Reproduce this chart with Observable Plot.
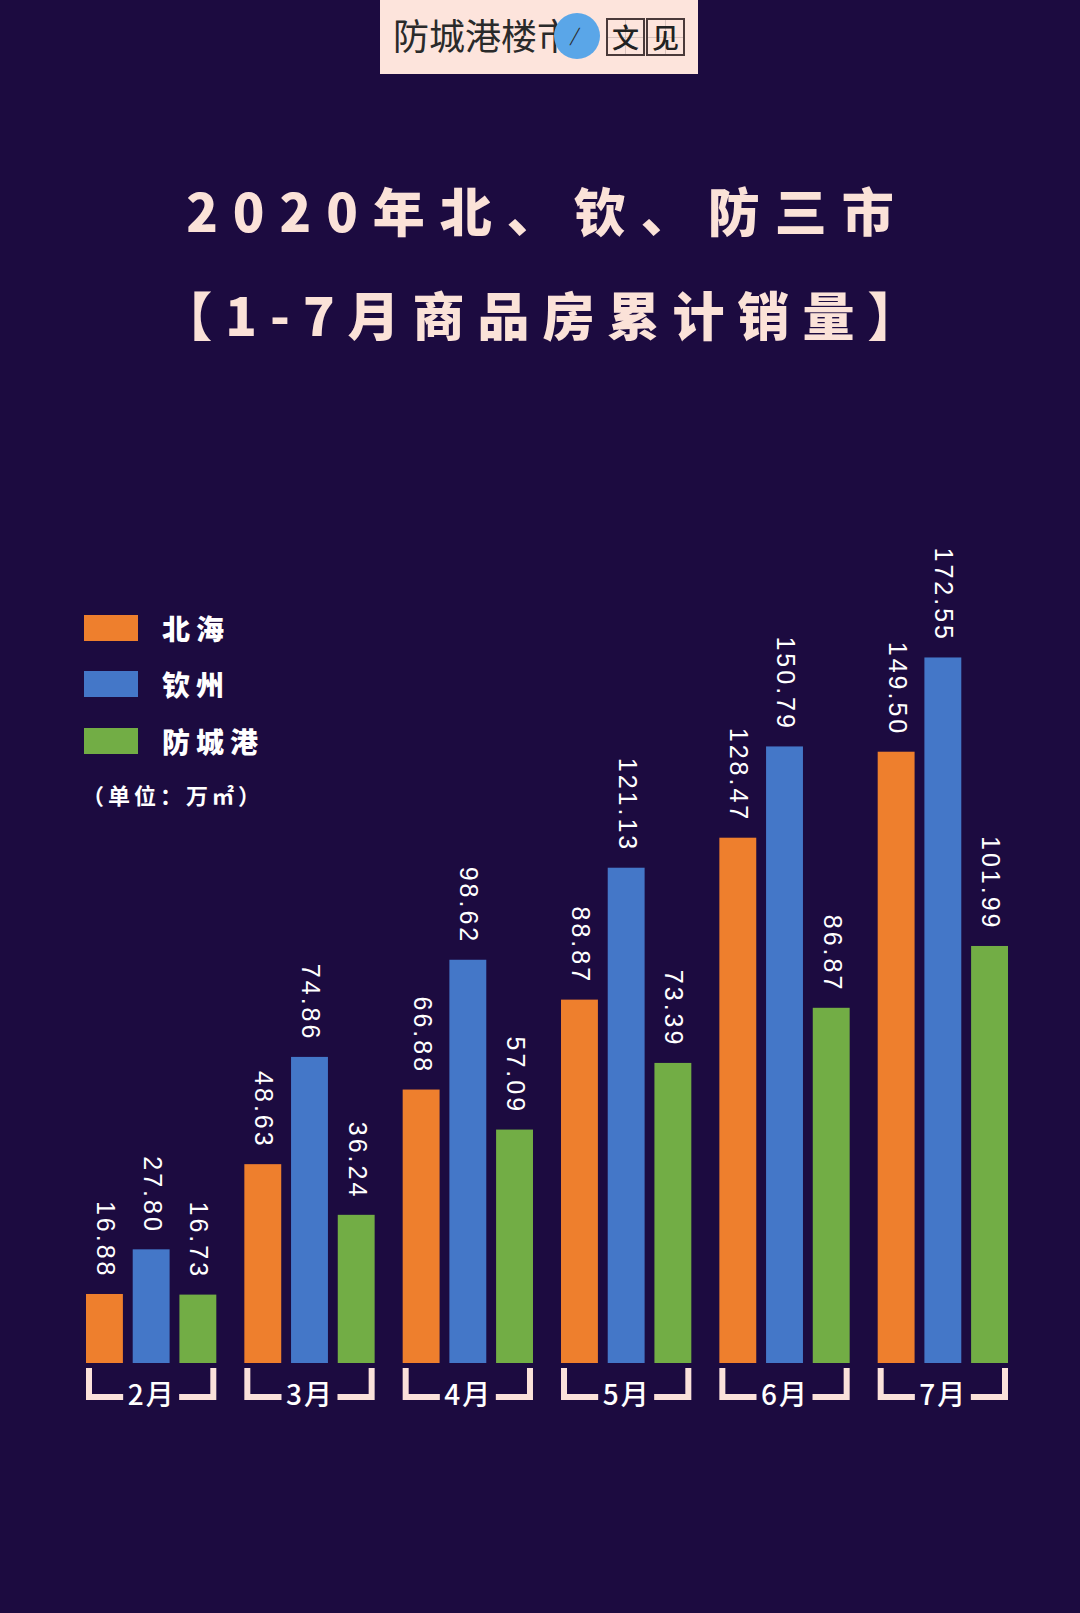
<!DOCTYPE html>
<html>
<head>
<meta charset="utf-8">
<script src="https://cdn.jsdelivr.net/npm/d3@7"></script>
<script src="https://cdn.jsdelivr.net/npm/@observablehq/plot@0.6"></script>
<style>
  html, body { margin: 0; padding: 0; background: #1c0b40; }
  #page { position: relative; width: 1080px; height: 1613px; background: #1c0b40; overflow: hidden;
          font-family: "Noto Sans CJK SC", "Noto Sans", sans-serif; }
  .abs { position: absolute; }
  #hdr { left: 380px; top: 0; width: 318px; height: 74px; background: #fde4dc; }
  #hdr .name { position: absolute; left: 13px; top: 12px; font-size: 36px; line-height: 44px; color: #2a2a2a; font-weight: 400; }
  #hdr .circle { position: absolute; left: 174px; top: 13px; width: 46px; height: 46px; border-radius: 50%; background: #5aa6e8; }
  #hdr .slash { position: absolute; left: 190px; top: 23px; font-size: 18px; line-height: 22px; color: #2a2a2a; font-style: italic; }
  #hdr .box { position: absolute; top: 18px; width: 35px; height: 34px; border: 2px solid #4a3a3a; font-size: 27px; line-height: 34px; text-align: center; color: #222; font-weight: 500; box-sizing: content-box;
    background-image: linear-gradient(#d9c3bd, #d9c3bd), linear-gradient(#d9c3bd, #d9c3bd);
    background-size: 1px 100%, 100% 1px; background-position: center, center; background-repeat: no-repeat; }
  .title { left: 0; width: 1080px; text-align: center; color: #fbe2d8; font-weight: 900; font-size: 52px; line-height: 60px; }
  .leg-sw { width: 54px; height: 26px; }
  .leg-tx { color: #fff; font-weight: 900; font-size: 28px; line-height: 32px; letter-spacing: 6px; }
  .unit { color: #fff; font-weight: 700; font-size: 22px; line-height: 28px; letter-spacing: 4px; }
  #chart { position: absolute; left: 0; top: 520px; }
</style>
</head>
<body>
<div id="page">
  <div id="hdr" class="abs">
    <div class="name">防城港楼市</div>
    <div class="circle"></div>
    <div class="slash">/</div>
    <div class="box" style="left:226px">文</div>
    <div class="box" style="left:266px">见</div>
  </div>
  <div class="abs title" id="t1" style="top:180px; letter-spacing:15px; text-indent:15px;">2020年北、钦、防三市</div>
  <div class="abs title" id="t2" style="top:284px; letter-spacing:13px; text-indent:13px;">【1-7月商品房累计销量】</div>
  <div id="legend"></div>
  <div id="chart"></div>
</div>
<script>
// ---- data ----
const months = ["2月", "3月", "4月", "5月", "6月", "7月"];
const cities = ["北海", "钦州", "防城港"];
const beihai = [16.88, 48.63, 66.88, 88.87, 128.47, 149.50];
const qinzhou = [27.80, 74.86, 98.62, 121.13, 150.79, 172.55];
const fangchenggang = [16.73, 36.24, 57.09, 73.39, 86.87, 101.99];
const colors = ["#ee7f2d", "#4477c8", "#72ad45"];
const unitLabel = "（单位：万㎡）";

const series = [beihai, qinzhou, fangchenggang];
const rows = [];
months.forEach((m, i) => cities.forEach((c, j) => rows.push({month: m, city: c, value: series[j][i]})));

// ---- legend (HTML) ----
const legend = document.getElementById("legend");
const legTops = [615, 671, 728];
cities.forEach((c, j) => {
  const sw = document.createElement("div");
  sw.className = "abs leg-sw";
  sw.style.left = "84px"; sw.style.top = legTops[j] + "px"; sw.style.background = colors[j];
  legend.appendChild(sw);
  const tx = document.createElement("div");
  tx.className = "abs leg-tx";
  tx.style.left = "162px"; tx.style.top = (legTops[j] - 3) + "px";
  tx.textContent = c;
  legend.appendChild(tx);
});
const unit = document.createElement("div");
unit.className = "abs unit";
unit.style.left = "82px"; unit.style.top = "780px";
unit.textContent = unitLabel;
legend.appendChild(unit);

// ---- chart ----
const W = 1080, H = 900;
const chart = Plot.plot({
  width: W,
  height: H,
  marginLeft: 86,
  marginRight: 72,
  marginTop: 107,
  marginBottom: 57,
  style: {background: "transparent", overflow: "visible"},
  fx: {domain: months, paddingInner: 0.177, paddingOuter: 0, round: false, axis: null, label: null},
  x: {domain: cities, paddingInner: 0.21, paddingOuter: 0, round: false, axis: null, label: null},
  y: {domain: [0, 180], axis: null, label: null},
  color: {domain: cities, range: colors},
  marks: [
    Plot.barY(rows, {fx: "month", x: "city", y: "value", fill: "city"}),
    Plot.text(rows, {
      fx: "month", x: "city", y: "value",
      text: d => d.value.toFixed(2),
      rotate: 90, textAnchor: "end", lineAnchor: "middle",
      dy: -16, fontSize: 25, fill: "#ffffff",
      fontFamily: "'Liberation Sans', Arial, sans-serif"
    }),
    Plot.text(months, {
      fx: d => d, text: d => d, frameAnchor: "bottom", dy: 33,
      lineAnchor: "middle", fontSize: 28, fontWeight: 500, fill: "#ffffff",
      fontFamily: "'Noto Sans CJK SC', sans-serif"
    })
  ]
});
document.getElementById("chart").appendChild(chart);

const svgEl = chart.tagName.toLowerCase() === "svg" ? chart : chart.querySelector("svg");
const svg = d3.select(svgEl);

// letter spacing for value and month labels
svg.selectAll("text").each(function () {
  const t = this.textContent;
  if (/^\d+\.\d{2}$/.test(t)) {
    this.style.letterSpacing = "3px";
    this.style.fontFamily = "'Liberation Sans', Arial, sans-serif";
  } else if (months.includes(t)) {
    this.style.letterSpacing = "2px";
  }
});

// brackets under each month group, positioned with the fx scale
const fx = chart.scale("fx");
const base = H - 57;
const g = svg.append("g").attr("stroke", "#fbe2da").attr("stroke-width", 6).attr("fill", "none")
  .attr("stroke-linejoin", "miter").attr("stroke-linecap", "butt");
months.forEach(m => {
  const x0 = fx.apply(m);
  const x1 = x0 + fx.bandwidth;
  const cx = (x0 + x1) / 2;
  const yTop = base + 5, yBot = base + 34;
  g.append("path").attr("d", `M${x0 + 3},${yTop} V${yBot} H${cx - 28}`);
  g.append("path").attr("d", `M${x1 - 3},${yTop} V${yBot} H${cx + 28}`);
});
</script>
</body>
</html>
